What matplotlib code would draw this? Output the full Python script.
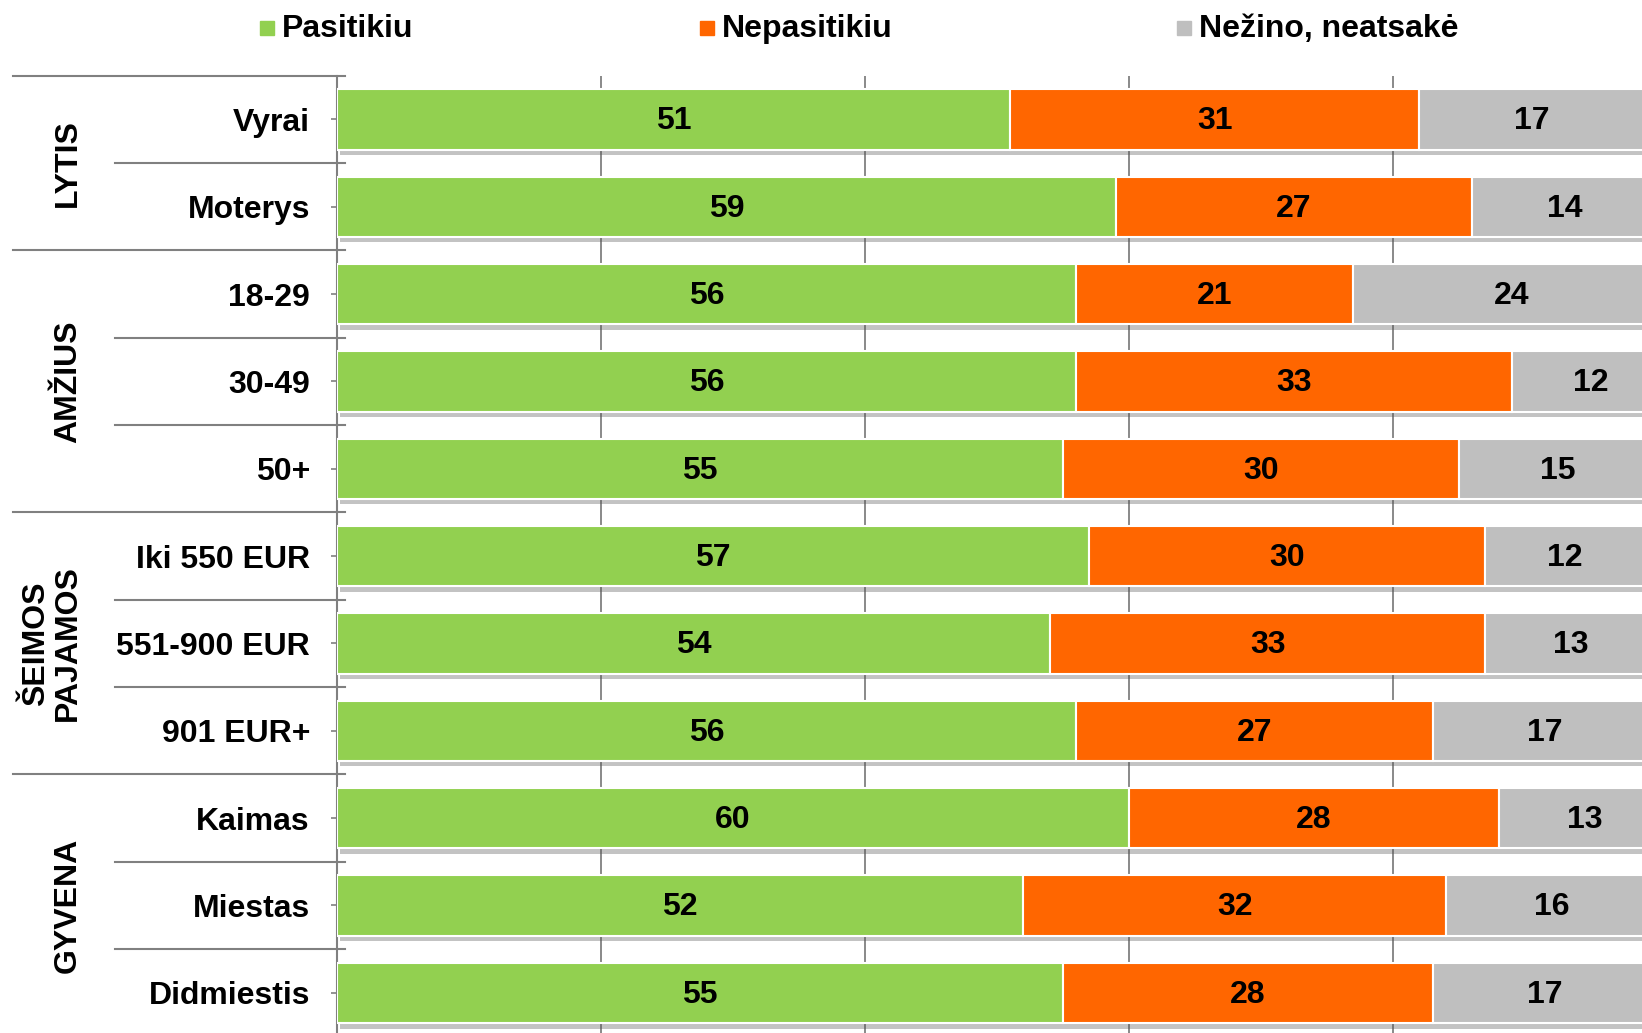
import matplotlib
matplotlib.use("Agg")
import matplotlib.pyplot as plt
import matplotlib.patheffects as pe
from matplotlib.patches import Rectangle
from matplotlib.transforms import offset_copy
import numpy as np

categories = ["Vyrai", "Moterys", "18-29", "30-49", "50+", "Iki 550 EUR",
              "551-900 EUR", "901 EUR+", "Kaimas", "Miestas", "Didmiestis"]
pasitikiu = [51, 59, 56, 56, 55, 57, 54, 56, 60, 52, 55]
nepasitikiu = [31, 27, 21, 33, 30, 30, 33, 27, 28, 32, 28]
nezino = [17, 14, 24, 12, 15, 12, 13, 17, 13, 16, 17]
series_names = ["Pasitikiu", "Nepasitikiu", "Nežino, neatsakė"]
colors = ["#92D050", "#FF6600", "#BFBFBF"]
groups = [("LYTIS", 0, 1), ("AMŽIUS", 2, 4), ("ŠEIMOS\nPAJAMOS", 5, 7), ("GYVENA", 8, 10)]

plt.rcParams['font.family'] = ['Liberation Sans', 'DejaVu Sans']
plt.rcParams['font.weight'] = 'bold'
FS = 23

W, H = 1642, 1033
fig = plt.figure(figsize=(W / 100, H / 100), dpi=100)
ax_left, ax_right = 337, 1657
ax_top, ax_bot = 75.7, 1036.5
ax = fig.add_axes([ax_left / W, 1 - ax_bot / H, (ax_right - ax_left) / W, (ax_bot - ax_top) / H])

n = len(categories)
y = np.arange(n)
data = [pasitikiu, nepasitikiu, nezino]
left = np.zeros(n)
shadow = [pe.SimplePatchShadow(offset=(2, -4), shadow_rgbFace="#555555", alpha=0.35), pe.Normal()]
txt_tr = offset_copy(ax.transData, fig=fig, x=0, y=-2, units="dots")
for vals, col in zip(data, colors):
    vals = np.array(vals, dtype=float)
    bars = ax.barh(y, vals, left=left, height=0.69, color=col, edgecolor="white",
                   linewidth=1.5, zorder=3)
    for b in bars:
        b.set_path_effects(shadow)
    for yi, l, v in zip(y, left, vals):
        ax.text(l + v / 2, yi, f"{int(v)}", ha="center", va="center", transform=txt_tr,
                fontsize=FS, fontweight="bold", color="black", zorder=5)
    left += vals

ax.set_xlim(0, 100)
ax.set_ylim(n - 0.5, -0.5)
ax.set_xticks([20, 40, 60, 80])
ax.xaxis.grid(True, color="#808080", linewidth=1.3, zorder=0)
ax.tick_params(axis="x", length=0, labelbottom=False)
ax.set_yticks(y)
ax.set_yticklabels(categories, fontsize=FS, fontweight="bold")
ax.tick_params(axis="y", direction="inout", length=9, color="#808080", width=1.2, pad=15)
for s in ["top", "right", "bottom"]:
    ax.spines[s].set_visible(False)
ax.spines["left"].set_color("#808080")
ax.spines["left"].set_linewidth(1.5)

# boundary lines
axw = ax_right - ax_left
tr = ax.get_yaxis_transform()
group_bounds = [-0.5] + [g[2] + 0.5 for g in groups]
for b in np.arange(-0.5, n, 1.0):
    x0 = 13 if b in group_bounds else 115
    ax.plot([(x0 - ax_left) / axw, (345 - ax_left) / axw], [b, b], transform=tr,
            color="#808080", linewidth=1.5, clip_on=False, zorder=1)

for name, a, b in groups:
    ax.text((52 - ax_left) / axw if "\n" in name else (68 - ax_left) / axw, (a + b) / 2, name,
            transform=tr, rotation=90, ha="center", va="center", fontsize=FS,
            fontweight="bold", linespacing=1.05)

# legend
leg_x = [260, 700, 1177]
for lx, nm, col in zip(leg_x, series_names, colors):
    fig.patches.append(Rectangle(((lx) / W, 1 - 35 / H), 14 / W, 14 / H,
                                 transform=fig.transFigure, color=col))
    fig.text((lx + 22) / W, 1 - 29 / H, nm, ha="left", va="center", fontsize=FS,
             fontweight="bold")

fig.savefig("out.png", dpi=100)
